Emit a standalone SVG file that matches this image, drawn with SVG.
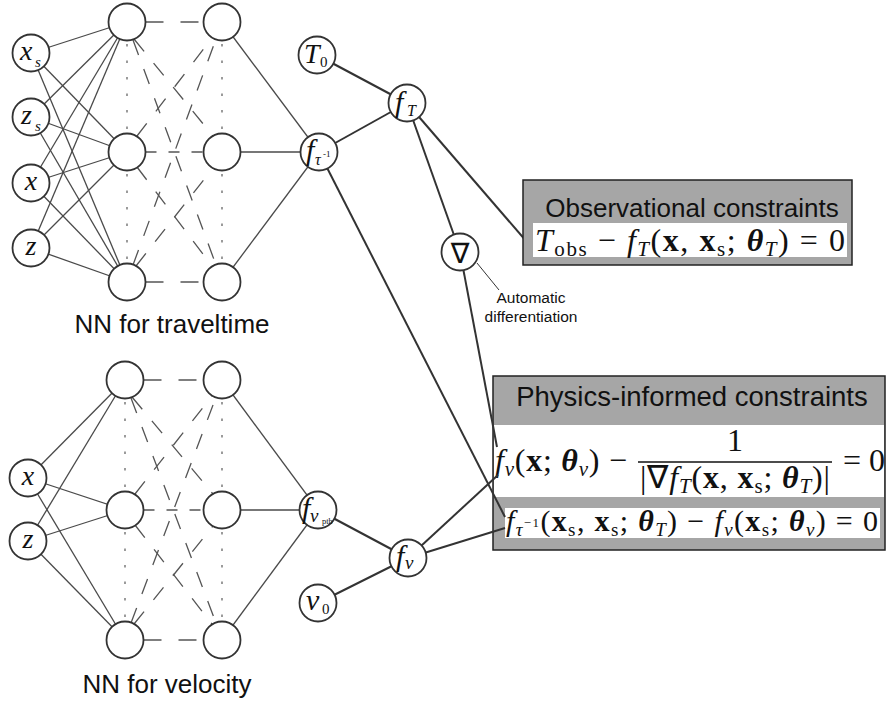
<svg xmlns="http://www.w3.org/2000/svg" width="886" height="704" viewBox="0 0 886 704">
<style>
.thin{stroke:#4a4a4a;stroke-width:1.3;fill:none}
.dash{stroke:#555;stroke-width:1.3;fill:none;stroke-dasharray:16 15}
.dashh{stroke:#555;stroke-width:1.3;fill:none;stroke-dasharray:18 17}
.dot{stroke:#666;stroke-width:1.3;fill:none;stroke-dasharray:2.5 14}
.thick{stroke:#333;stroke-width:2;fill:none}
.node{fill:#fff;stroke:#333;stroke-width:1.8}
.lbl{font-family:"Liberation Serif","Times New Roman",serif;font-style:italic;fill:#111}
.up{font-style:normal}
.sans{font-family:"Liberation Sans",Arial,sans-serif;fill:#111}
.m{font-family:"Liberation Serif","Times New Roman",serif;fill:#111}
.i{font-style:italic}
.b{font-weight:bold}
.bi{font-weight:bold;font-style:italic}
.box{fill:#a6a6a6;stroke:#222;stroke-width:1.5}
</style>
<g id="connectors">
<g class="thin">
<line x1="31" y1="53" x2="127" y2="22"/><line x1="31" y1="53" x2="127" y2="152"/><line x1="31" y1="53" x2="127" y2="282"/>
<line x1="31" y1="117" x2="127" y2="22"/><line x1="31" y1="117" x2="127" y2="152"/><line x1="31" y1="117" x2="127" y2="282"/>
<line x1="31" y1="183" x2="127" y2="22"/><line x1="31" y1="183" x2="127" y2="152"/><line x1="31" y1="183" x2="127" y2="282"/>
<line x1="31" y1="248" x2="127" y2="22"/><line x1="31" y1="248" x2="127" y2="152"/><line x1="31" y1="248" x2="127" y2="282"/>
<line x1="222" y1="22" x2="319" y2="152"/><line x1="222" y1="152" x2="319" y2="152"/><line x1="222" y1="282" x2="319" y2="152"/>
</g>
<line class="dashh" x1="145.5" y1="22" x2="204" y2="22"/>
<line class="dash" x1="145.5" y1="152" x2="204" y2="152" style="stroke-dasharray:11 12"/>
<line class="dashh" x1="145.5" y1="282" x2="204" y2="282"/>
<line class="dash" x1="134" y1="39" x2="213" y2="136"/>
<line class="dash" x1="133" y1="40" x2="216" y2="265"/>
<line class="dash" x1="137" y1="136" x2="212" y2="38"/>
<line class="dash" x1="137" y1="167" x2="212" y2="266"/>
<line class="dash" x1="133" y1="265" x2="216" y2="39"/>
<line class="dash" x1="136" y1="266" x2="213" y2="168"/>
<line class="dot" x1="127" y1="44" x2="127" y2="132"/>
<line class="dot" x1="127" y1="174" x2="127" y2="262"/>
<line class="dot" x1="222" y1="44" x2="222" y2="132"/>
<line class="dot" x1="222" y1="174" x2="222" y2="262"/>
<g class="thin">
<line x1="28" y1="478" x2="125" y2="380"/><line x1="28" y1="478" x2="125" y2="510"/><line x1="28" y1="478" x2="125" y2="640"/>
<line x1="28" y1="541" x2="125" y2="380"/><line x1="28" y1="541" x2="125" y2="510"/><line x1="28" y1="541" x2="125" y2="640"/>
<line x1="222" y1="380" x2="318" y2="510"/><line x1="222" y1="510" x2="318" y2="510"/><line x1="222" y1="640" x2="318" y2="510"/>
</g>
<line class="dashh" x1="143.5" y1="380" x2="204" y2="380"/>
<line class="dash" x1="143.5" y1="510" x2="204" y2="510" style="stroke-dasharray:11 12"/>
<line class="dashh" x1="143.5" y1="640" x2="204" y2="640"/>
<line class="dash" x1="132" y1="397" x2="213" y2="494"/>
<line class="dash" x1="131" y1="398" x2="216" y2="623"/>
<line class="dash" x1="135" y1="494" x2="212" y2="396"/>
<line class="dash" x1="135" y1="525" x2="212" y2="624"/>
<line class="dash" x1="131" y1="623" x2="216" y2="397"/>
<line class="dash" x1="134" y1="624" x2="213" y2="526"/>
<line class="dot" x1="125" y1="402" x2="125" y2="490"/>
<line class="dot" x1="125" y1="532" x2="125" y2="620"/>
<line class="dot" x1="222" y1="402" x2="222" y2="490"/>
<line class="dot" x1="222" y1="532" x2="222" y2="620"/>
<g class="thick">
<line x1="317" y1="55" x2="407" y2="103"/>
<line x1="319" y1="152" x2="407" y2="103"/>
<line x1="407" y1="103" x2="460" y2="252"/>
<line x1="407" y1="103" x2="533" y2="249"/>
<line x1="318" y1="510" x2="408" y2="558"/>
<line x1="318" y1="603" x2="408" y2="558"/>
</g>
<line x1="477" y1="263" x2="499" y2="290" stroke="#333" stroke-width="1"/>
</g>
<g id="obs-box">
<rect class="box" x="523" y="180" width="329" height="85"/>
<rect x="533" y="223" width="314" height="34" fill="#fff"/>
<text class="sans" x="692" y="217" font-size="26" text-anchor="middle">Observational constraints</text>
<text class="m" x="535" y="251" font-size="32" textLength="310"><tspan class="i">T</tspan><tspan font-size="21" dy="5">obs</tspan><tspan dy="-5"> − </tspan><tspan class="i">f</tspan><tspan class="i" font-size="21" dy="5">T</tspan><tspan dy="-5">(</tspan><tspan class="b">x</tspan><tspan>, </tspan><tspan class="b">x</tspan><tspan font-size="21" dy="5">s</tspan><tspan dy="-5">; </tspan><tspan class="bi">θ</tspan><tspan class="i" font-size="21" dy="5">T</tspan><tspan dy="-5">) = 0</tspan></text>
</g>
<g id="phys-box">
<rect class="box" x="493" y="376" width="392" height="174"/>
<rect x="494" y="425" width="390" height="72" fill="#fff"/>
<rect x="505" y="508" width="375" height="30" fill="#fff"/>
<text class="sans" x="692" y="406" font-size="27.5" text-anchor="middle">Physics-informed constraints</text>
<text class="m" x="495" y="471" font-size="32" textLength="132"><tspan class="i">f</tspan><tspan class="i" font-size="21" dy="5">v</tspan><tspan dy="-5">(</tspan><tspan class="b">x</tspan><tspan>; </tspan><tspan class="bi">θ</tspan><tspan class="i" font-size="21" dy="5">v</tspan><tspan dy="-5">) −</tspan></text>
<text class="m" x="735" y="451" font-size="32" text-anchor="middle">1</text>
<line x1="638" y1="462" x2="832" y2="462" stroke="#111" stroke-width="1.3"/>
<text class="m" x="640" y="488" font-size="32" textLength="190"><tspan>|∇</tspan><tspan class="i">f</tspan><tspan class="i" font-size="21" dy="5">T</tspan><tspan dy="-5">(</tspan><tspan class="b">x</tspan><tspan>, </tspan><tspan class="b">x</tspan><tspan font-size="21" dy="5">s</tspan><tspan dy="-5">; </tspan><tspan class="bi">θ</tspan><tspan class="i" font-size="21" dy="5">T</tspan><tspan dy="-5">)|</tspan></text>
<text class="m" x="843" y="471" font-size="32" textLength="42">= 0</text>
<text class="m" x="506" y="531" font-size="30" textLength="372"><tspan class="i">f</tspan><tspan class="i" font-size="19" dy="5">τ</tspan><tspan font-size="13" dy="-9">−1</tspan><tspan dy="4">(</tspan><tspan class="b">x</tspan><tspan font-size="19" dy="5">s</tspan><tspan dy="-5">, </tspan><tspan class="b">x</tspan><tspan font-size="19" dy="5">s</tspan><tspan dy="-5">; </tspan><tspan class="bi">θ</tspan><tspan class="i" font-size="19" dy="5">T</tspan><tspan dy="-5">) − </tspan><tspan class="i">f</tspan><tspan class="i" font-size="19" dy="5">v</tspan><tspan dy="-5">(</tspan><tspan class="b">x</tspan><tspan font-size="19" dy="5">s</tspan><tspan dy="-5">; </tspan><tspan class="bi">θ</tspan><tspan class="i" font-size="19" dy="5">v</tspan><tspan dy="-5">) = 0</tspan></text>
</g>
<g id="box-connectors" class="thick">
<line x1="460" y1="252" x2="497" y2="447"/>
<line x1="319" y1="152" x2="505" y2="517"/>
<line x1="408" y1="558" x2="498" y2="475"/>
<line x1="408" y1="558" x2="505" y2="528"/>
</g>
<g id="in-xs"><circle class="node" cx="31" cy="53" r="18.5"/><text class="lbl" x="20" y="60" font-size="28">x</text><text class="lbl" x="35" y="67" font-size="15">s</text></g>
<g id="in-zs"><circle class="node" cx="31" cy="117" r="18.5"/><text class="lbl" x="21" y="124" font-size="28">z</text><text class="lbl" x="35" y="131" font-size="15">s</text></g>
<g id="in-x"><circle class="node" cx="31" cy="183" r="18.5"/><text class="lbl" x="31" y="190" font-size="28" text-anchor="middle">x</text></g>
<g id="in-z"><circle class="node" cx="31" cy="248" r="18.5"/><text class="lbl" x="31" y="255" font-size="28" text-anchor="middle">z</text></g>
<g id="h1-1"><circle class="node" cx="127" cy="22" r="18.5"/></g>
<g id="h1-2"><circle class="node" cx="127" cy="152" r="18.5"/></g>
<g id="h1-3"><circle class="node" cx="127" cy="282" r="18.5"/></g>
<g id="h2-1"><circle class="node" cx="222" cy="22" r="18.5"/></g>
<g id="h2-2"><circle class="node" cx="222" cy="152" r="18.5"/></g>
<g id="h2-3"><circle class="node" cx="222" cy="282" r="18.5"/></g>
<g id="f-tau"><circle class="node" cx="319" cy="152" r="18.5"/><text class="lbl" x="306" y="160" font-size="30">f</text><text class="lbl" x="315" y="165" font-size="16">τ</text><text class="lbl up" x="323" y="157" font-size="9">-1</text></g>
<g id="T0"><circle class="node" cx="317" cy="55" r="18.5"/><text class="lbl" x="304" y="63" font-size="28">T</text><text class="lbl up" x="320" y="67" font-size="15">0</text></g>
<g id="fT"><circle class="node" cx="407" cy="103" r="18.5"/><text class="lbl" x="395" y="112" font-size="30">f</text><text class="lbl" x="407" y="116" font-size="16">T</text></g>
<g id="grad"><circle class="node" cx="460" cy="252" r="18.5"/><text x="460" y="263" font-family="DejaVu Sans, sans-serif" font-size="28" text-anchor="middle" fill="#111">∇</text></g>
<text class="sans" x="531" y="303" font-size="15.5" text-anchor="middle">Automatic</text>
<text class="sans" x="531" y="322" font-size="15.5" text-anchor="middle">differentiation</text>
<text class="sans" x="172" y="333" font-size="26" text-anchor="middle">NN for traveltime</text>
<g id="in2-x"><circle class="node" cx="28" cy="478" r="18.5"/><text class="lbl" x="28" y="485" font-size="28" text-anchor="middle">x</text></g>
<g id="in2-z"><circle class="node" cx="28" cy="541" r="18.5"/><text class="lbl" x="28" y="548" font-size="28" text-anchor="middle">z</text></g>
<g id="v1-1"><circle class="node" cx="125" cy="380" r="18.5"/></g>
<g id="v1-2"><circle class="node" cx="125" cy="510" r="18.5"/></g>
<g id="v1-3"><circle class="node" cx="125" cy="640" r="18.5"/></g>
<g id="v2-1"><circle class="node" cx="222" cy="380" r="18.5"/></g>
<g id="v2-2"><circle class="node" cx="222" cy="510" r="18.5"/></g>
<g id="v2-3"><circle class="node" cx="222" cy="640" r="18.5"/></g>
<g id="f-vptb"><circle class="node" cx="318" cy="510" r="18.5"/><text class="lbl" x="302" y="518" font-size="30">f</text><text class="lbl" x="310" y="522" font-size="19">v</text><text class="lbl up" x="322" y="524" font-size="8.5">ptb</text></g>
<g id="fv"><circle class="node" cx="408" cy="558" r="18.5"/><text class="lbl" x="396" y="566" font-size="30">f</text><text class="lbl" x="405" y="569" font-size="19">v</text></g>
<g id="v0"><circle class="node" cx="318" cy="603" r="18.5"/><text class="lbl" x="306" y="610" font-size="30">v</text><text class="lbl up" x="322" y="614" font-size="15">0</text></g>
<text class="sans" x="167" y="693" font-size="26" text-anchor="middle">NN for velocity</text>
</svg>
